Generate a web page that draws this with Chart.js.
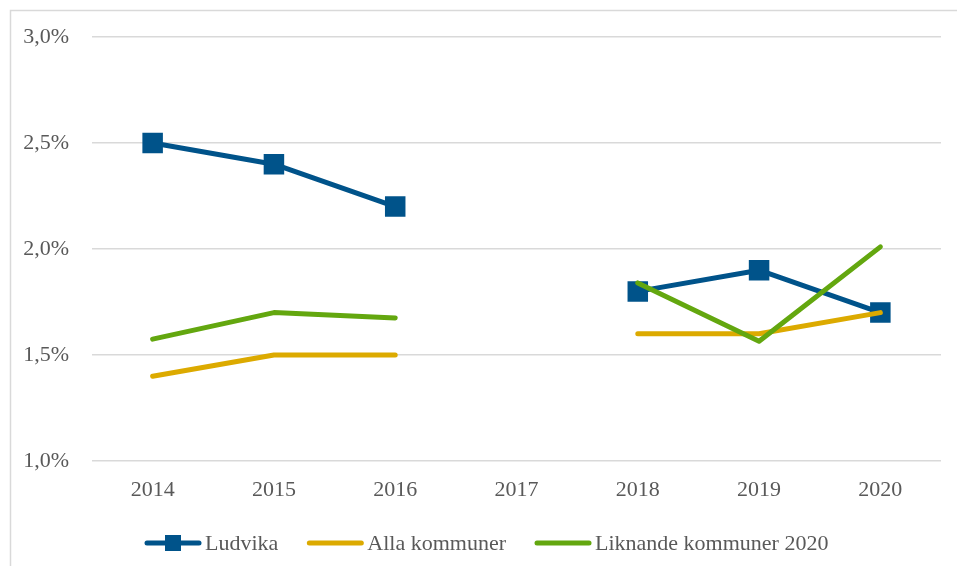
<!DOCTYPE html>
<html>
<head>
<meta charset="utf-8">
<script src="https://cdn.jsdelivr.net/npm/chart.js@4"></script>
<style>
  html, body { margin: 0; padding: 0; background: #fff; }
  #wrap { width: 957px; height: 566px; }
</style>
</head>
<body>
<div id="wrap"><canvas id="myChart" width="957" height="566"></canvas></div>
<script>
// Data
const years = ['2014', '2015', '2016', '2017', '2018', '2019', '2020'];
const ludvika = [2.5, 2.4, 2.2, null, 1.8, 1.9, 1.7];
const allaKommuner = [1.4, 1.5, 1.5, null, 1.6, 1.6, 1.7];
const liknandeKommuner = [1.575, 1.70, 1.675, null, 1.84, 1.565, 2.01];
const yTicks = [1.0, 1.5, 2.0, 2.5, 3.0];

const textColor = '#595959';
const fontFamily = '"Liberation Serif", "DejaVu Serif", serif';

// Ram + legend ritas för hand (Excel-stil)
const ramOchLegend = {
    id: 'ramOchLegend',
    afterDraw(chart) {
        const c = chart.ctx;
        c.save();
        // yttre ram
        c.strokeStyle = '#d9d9d9';
        c.lineWidth = 1.5;
        c.beginPath();
        c.moveTo(10.5, 570);
        c.lineTo(10.5, 10.5);
        c.lineTo(960, 10.5);
        c.stroke();

        // legend
        c.font = '22px ' + fontFamily;
        c.textBaseline = 'middle';
        const y = 543;
        let x = 147;
        chart.data.datasets.forEach((ds) => {
            c.strokeStyle = ds.borderColor;
            c.lineWidth = 5;
            c.lineCap = 'round';
            c.beginPath();
            c.moveTo(x, y);
            c.lineTo(x + 52, y);
            c.stroke();
            if (ds.pointStyle === 'rect') {
                c.fillStyle = ds.pointBackgroundColor;
                c.fillRect(x + 26 - 8, y - 8, 16, 16);
            }
            c.fillStyle = textColor;
            c.fillText(ds.label, x + 58, y + 1);
            x += 58 + c.measureText(ds.label).width + 31;
        });
        c.restore();
    }
};

const ctx = document.getElementById('myChart').getContext('2d');
const myChart = new Chart(ctx, {
    type: 'line',
    data: {
        labels: years,
        datasets: [{
            label: 'Ludvika',
            data: ludvika,
            borderColor: '#00538A',
            backgroundColor: '#00538A',
            pointBackgroundColor: '#00538A',
            pointBorderColor: '#00538A',
            pointStyle: 'rect',
            pointRadius: 14.5,
            pointBorderWidth: 0,
            borderWidth: 5,
            order: 3
        }, {
            label: 'Alla kommuner',
            data: allaKommuner,
            borderColor: '#DCAA00',
            backgroundColor: '#DCAA00',
            pointRadius: 0,
            borderWidth: 5,
            order: 2
        }, {
            label: 'Liknande kommuner 2020',
            data: liknandeKommuner,
            borderColor: '#63A70F',
            backgroundColor: '#63A70F',
            pointRadius: 0,
            borderWidth: 5,
            order: 1
        }]
    },
    options: {
        responsive: false,
        animation: false,
        spanGaps: false,
        layout: {
            padding: { top: 37, right: 16, bottom: 0, left: 0 }
        },
        elements: {
            line: {
                borderCapStyle: 'round',
                borderJoinStyle: 'round',
                tension: 0
            }
        },
        plugins: {
            legend: { display: false },
            tooltip: { enabled: false }
        },
        scales: {
            x: {
                offset: true,
                grid: { display: false, drawTicks: false },
                border: { display: false },
                ticks: {
                    color: textColor,
                    padding: 16,
                    font: { family: fontFamily, size: 22 }
                },
                afterFit: (scale) => { scale.height = 105; }
            },
            y: {
                min: 1,
                max: 3,
                grid: { color: '#d9d9d9', lineWidth: 1.5, drawTicks: false },
                border: { display: false },
                afterBuildTicks: (scale) => {
                    scale.ticks = yTicks.map(v => ({ value: v }));
                },
                ticks: {
                    color: textColor,
                    padding: 23,
                    font: { family: fontFamily, size: 22 },
                    callback: (v) => v.toFixed(1).replace('.', ',') + '%'
                },
                afterFit: (scale) => { scale.width = 92; }
            }
        }
    },
    plugins: [ramOchLegend]
});
</script>
</body>
</html>
